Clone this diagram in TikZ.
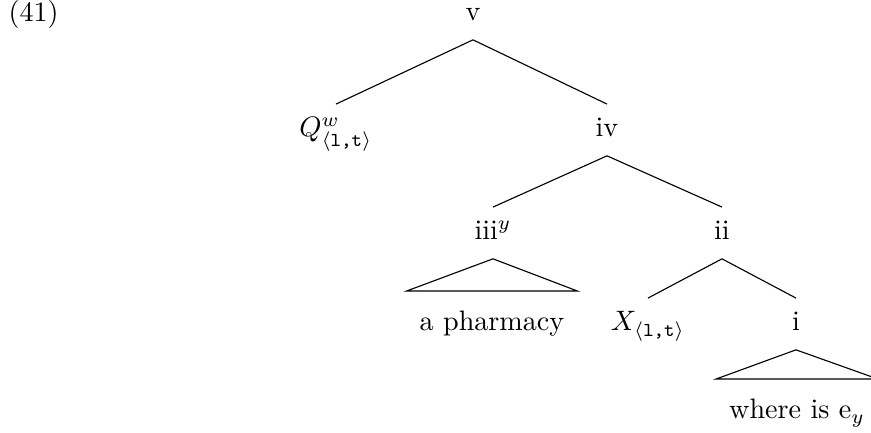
\documentclass[tikz,border=0pt]{standalone}
\usepackage{tikz}
\usetikzlibrary{positioning}
\newcommand{\tylt}{\langle\mbox{\scriptsize\texttt{l,t}}\rangle}
\tikzset{
  lab/.style   ={anchor=base,inner xsep=0pt,inner ysep=3pt,
                 text height=8.5pt,text depth=3.5pt},
  leaf/.style  ={anchor=base,inner xsep=4.5pt,inner ysep=3pt,
                 text height=11pt,text depth=0pt},
  branch/.style={line width=0.4pt,draw=black}
}
\begin{document}
\begin{tikzpicture}[x=0.0125cm,y=-0.0125cm]
        \useasboundingbox (0,0) rectangle (871,433);
        \node[anchor=base west,inner sep=0pt] (exnum) at (8,22) {(41)};
        \node[lab] (v) at (473,21) {v};
        \node[lab] (q) at (336,137) {$Q^{w}_{\tylt}$};
        \node[lab] (iv) at (607,137) {iv};
        \node[lab] (iii) at (493,240) {iii$^{y}$};
        \node[lab] (ii) at (722,240) {ii};
        \node[leaf] (pharm) at (492,331) {a pharmacy};
        \node[lab] (x) at (648,331) {$X_{\tylt}$};
        \node[lab] (i) at (796,331) {i};
        \node[leaf] (where) at (797,419) {where is e$_{y}$};
        \draw[branch] (v.south) -- (q.north);
        \draw[branch] (v.south) -- (iv.north);
        \draw[branch] (iv.south) -- (iii.north);
        \draw[branch] (iv.south) -- (ii.north);
        \draw[branch] (ii.south) -- (x.north);
        \draw[branch] (ii.south) -- (i.north);
        \draw[branch] (iii.south) -- (pharm.north east) -- (pharm.north west) -- cycle;
        \draw[branch] (i.south) -- (where.north east) -- (where.north west) -- cycle;
      \end{tikzpicture}
\end{document}
